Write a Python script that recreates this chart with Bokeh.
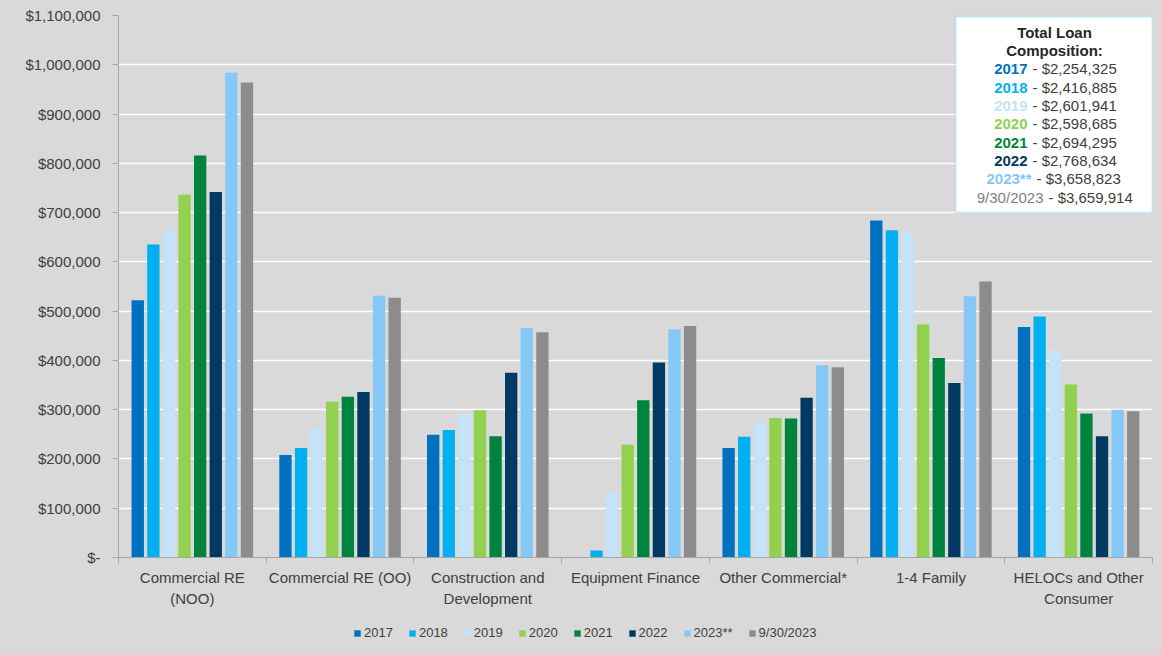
from bokeh.plotting import figure
from bokeh.layouts import column
from bokeh.models import (ColumnDataSource, Range1d, FixedTicker, Legend, LegendItem,
                          BoxAnnotation, Label)
from bokeh.transform import dodge
from bokeh.embed import file_html
from bokeh.resources import INLINE

# ---------------- data ----------------
categories = ["Commercial RE\n(NOO)", "Commercial RE (OO)", "Construction and\nDevelopment",
              "Equipment Finance", "Other Commercial*", "1-4 Family", "HELOCs and Other\nConsumer"]
series = ["2017", "2018", "2019", "2020", "2021", "2022", "2023**", "9/30/2023"]

v2017 = [522000, 208000, 249000, 0, 222000, 684000, 468000]
v2018 = [635000, 222000, 259000, 14000, 245000, 664000, 489000]
v2019 = [664000, 262000, 293000, 132000, 274000, 660000, 422000]
v2020 = [736000, 316000, 299000, 229000, 283000, 473000, 351000]
v2021 = [816000, 326000, 246000, 319000, 282000, 405000, 292000]
v2022 = [742000, 336000, 375000, 396000, 324000, 354000, 246000]
v2023 = [984000, 531000, 466000, 463000, 390000, 530000, 300000]
v0930 = [964000, 527000, 457000, 470000, 386000, 560000, 297000]
values = [v2017, v2018, v2019, v2020, v2021, v2022, v2023, v0930]

totals = ["$2,254,325", "$2,416,885", "$2,601,941", "$2,598,685",
          "$2,694,295", "$2,768,634", "$3,658,823", "$3,659,914"]

y_ticks = [0, 100000, 200000, 300000, 400000, 500000, 600000, 700000,
           800000, 900000, 1000000, 1100000]
y_tick_labels = ["$-", "$100,000", "$200,000", "$300,000", "$400,000", "$500,000",
                 "$600,000", "$700,000", "$800,000", "$900,000", "$1,000,000", "$1,100,000"]

# ---------------- styles ----------------
colors = ["#0070C0", "#00B0F0", "#C5E3F8", "#92D050", "#00843D", "#003A63", "#85C8F8", "#8C8C8C"]
year_colors = ["#0070C0", "#00B0F0", "#C5E3F8", "#92D050", "#00843D", "#003A63", "#85C8F8", "#7F7F7F"]
FONT = "Liberation Sans"
BG = "#D9D9D9"
TXT = "#404040"
AXIS = "#A6A6A6"

n = len(categories)
YMAX = 1100000
W = 1155

src = {"idx": [i + 0.5 for i in range(n)]}
for s, v in zip(series, values):
    src[s] = v
source = ColumnDataSource(src)

p = figure(width=W, height=615, output_backend="svg", toolbar_location=None,
           x_range=Range1d(0, n), y_range=Range1d(0, YMAX),
           min_border_left=118, min_border_right=W - 1152, min_border_top=15,
           min_border_bottom=58)
p.background_fill_color = BG
p.border_fill_color = BG
p.outline_line_color = None

step = 0.1056
bw = 0.0835
for k, s in enumerate(series):
    off = (k - (len(series) - 1) / 2) * step
    p.vbar(x=dodge("idx", off), top=s, width=bw, source=source,
           fill_color=colors[k], line_color=None)

# y axis
p.yaxis.ticker = FixedTicker(ticks=y_ticks)
p.yaxis.major_label_overrides = {t: l for t, l in zip(y_ticks, y_tick_labels)}
p.yaxis.major_label_text_font = FONT
p.yaxis.major_label_text_font_size = "15px"
p.yaxis.major_label_text_color = TXT
p.yaxis.axis_line_color = AXIS
p.yaxis.major_tick_line_color = AXIS
p.yaxis.major_tick_out = 6
p.yaxis.major_tick_in = 0
p.yaxis.minor_tick_line_color = None
p.yaxis.major_label_standoff = 12

# x axis
centers = [i + 0.5 for i in range(n)]
p.xaxis.ticker = FixedTicker(ticks=centers, minor_ticks=list(range(n + 1)))
p.xaxis.major_label_overrides = {c: lab for c, lab in zip(centers, categories)}
p.xaxis.major_label_text_font = FONT
p.xaxis.major_label_text_font_size = "15px"
p.xaxis.major_label_text_color = TXT
p.xaxis.major_label_text_line_height = 1.25
p.xaxis.axis_line_color = AXIS
p.xaxis.major_tick_line_color = None
p.xaxis.major_tick_out = 0
p.xaxis.major_tick_in = 0
p.xaxis.minor_tick_line_color = AXIS
p.xaxis.minor_tick_out = 6
p.xaxis.minor_tick_in = 0
p.xaxis.major_label_standoff = 5

p.xgrid.grid_line_color = None
p.ygrid.grid_line_color = "white"
p.ygrid.grid_line_width = 1.5

# ---------------- total composition box ----------------
X0, X1, Y0, Y1 = 118.0, 1152.0, 557.0, 15.0


def px2x(px):
    return (px - X0) / (X1 - X0) * n


def px2y(py):
    return (Y0 - py) / (Y0 - Y1) * YMAX


box = BoxAnnotation(left=px2x(955), right=px2x(1152), top=px2y(16), bottom=px2y(212),
                    fill_color="white", fill_alpha=1, line_color="#55C1EC", line_width=2)
p.add_layout(box)

cx = px2x(1054)
for txt, py in [("Total Loan", 32), ("Composition:", 50)]:
    p.add_layout(Label(x=cx, y=px2y(py), text=txt, text_align="center", text_baseline="middle",
                       text_font=FONT, text_font_size="15px", text_font_style="bold",
                       text_color="#262626"))

line_y = [68, 87, 105, 123, 142, 160, 178, 197]
anchor = [1027, 1027, 1027, 1027, 1027, 1027, 1031, 1043]
for k in range(len(series)):
    y = px2y(line_y[k])
    style = "normal" if k == len(series) - 1 else "bold"
    p.add_layout(Label(x=px2x(anchor[k]), y=y, text=series[k], text_align="right",
                       text_baseline="middle", text_font=FONT, text_font_size="15px",
                       text_font_style=style, text_color=year_colors[k]))
    p.add_layout(Label(x=px2x(anchor[k] + 5), y=y, text="- " + totals[k], text_align="left",
                       text_baseline="middle", text_font=FONT, text_font_size="15px",
                       text_color=TXT))

# ---------------- legend strip below ----------------
lg = figure(width=W, height=35, output_backend="svg", toolbar_location=None,
            x_range=Range1d(0, 1), y_range=Range1d(0, 1),
            x_axis_location=None, y_axis_location=None,
            min_border_left=118, min_border_right=W - 1152, min_border_top=0,
            min_border_bottom=0)
lg.background_fill_color = BG
lg.border_fill_color = BG
lg.outline_line_color = None
lg.grid.visible = False
items = []
for k, s in enumerate(series):
    # zero-height legend proxies: only their legend swatch is visible
    r = lg.vbar(x=[0.5], top=[0], bottom=[0], width=0.0, fill_color=colors[k],
                line_color=None)
    items.append(LegendItem(label=s, renderers=[r]))
legend = Legend(items=items, orientation="horizontal", location=(235, 10),
                label_text_font=FONT, label_text_font_size="13px", label_text_color=TXT,
                glyph_width=8, glyph_height=8, label_standoff=3, spacing=15,
                background_fill_alpha=0, border_line_color=None, padding=0, margin=0)
lg.add_layout(legend)

layout = column(p, lg, spacing=0)
layout.styles = {"background-color": BG}

template = """{% block preamble %}<style>html, body { background: #D9D9D9; }</style>{% endblock %}"""
open("out.html", "w").write(file_html(layout, INLINE, template=template))
